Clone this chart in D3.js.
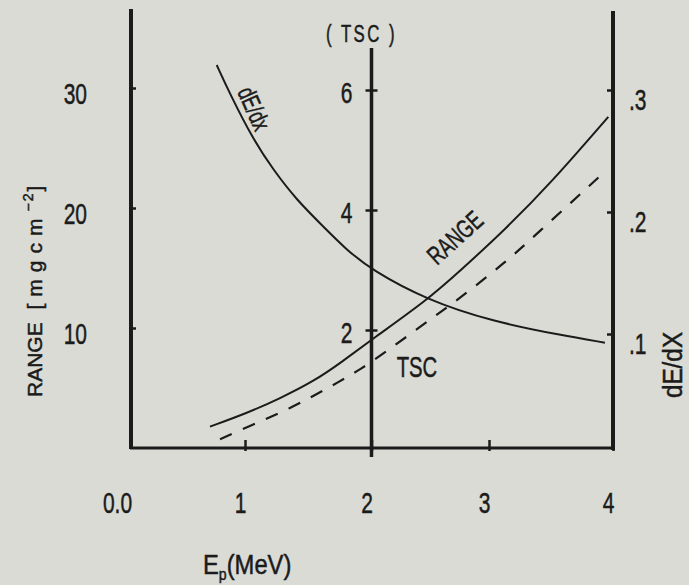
<!DOCTYPE html>
<html>
<head>
<meta charset="utf-8">
<script src="https://cdn.jsdelivr.net/npm/d3@7"></script>
<style>
  html, body { margin: 0; padding: 0; background: #dadbd5; }
  svg { display: block; }
  text { font-family: "Liberation Sans", Arial, sans-serif; fill: #1b1b1b; stroke: #1b1b1b; stroke-width: 0.5px; }
</style>
</head>
<body>
<svg id="chart" width="689" height="585"></svg>
<script>
// tick values / labels
const energyTicks = [0, 1, 2, 3, 4];
const energyLabels = ['0.0', '1', '2', '3', '4'];
const rangeTicks = [10, 20, 30];
const tscTicks = [2, 4, 6];
const dedxTicks = [0.1, 0.2, 0.3];
const dedxLabels = ['.1', '.2', '.3'];

// RANGE (solid), mg cm^-2, left axis
const rangeEnergy = [0.715, 1.013, 1.277, 1.540, 1.777, 2.002, 2.470, 2.753, 3.129, 3.50, 3.962];
const rangeValues = [1.78, 2.89, 4.14, 5.53, 7.25, 9.05, 12.3, 14.75, 18.2, 22.1, 27.6];

// TSC (dashed), middle axis
const tscEnergy = [0.797, 1.145, 1.356, 1.540, 1.738, 1.909, 2.098, 2.523, 2.753, 3.145, 3.357, 3.935];
const tscValues = [0.18, 0.50, 0.695, 0.90, 1.13, 1.34, 1.60, 2.21, 2.53, 3.15, 3.55, 4.64];

// dE/dx (solid), right axis
const dedxEnergy = [0.770, 0.878, 1.067, 1.225, 1.409, 1.620, 1.804, 2.002, 2.470, 3.035, 3.573, 3.935];
const dedxValues = [0.3205, 0.2967, 0.259, 0.2344, 0.2098, 0.188, 0.1689, 0.1525, 0.1279, 0.1101, 0.0992, 0.0929];

const svg = d3.select('#chart');
const ink = '#1b1b1b';
const squeeze = 0.7;   // lettering is narrow

// hand drawn axis, so a polylinear x scale
const x = d3.scaleLinear().domain([0, 1, 2, 3, 4]).range([122, 245, 371.5, 489, 613]);
const yRange = d3.scaleLinear().domain([0, 30]).range([448, 88]);
const yTsc = d3.scaleLinear().domain([0, 6]).range([450, 90]);
const yDedx = d3.scaleLinear().domain([0, 0.3]).range([456, 90]);

const frameLeft = 131, frameTop = 9;
const frameBottom = yRange(0), frameRight = x(4);

// move x/y into a transform so the glyphs can be squeezed sideways
function condense(sel, sx, rot) {
    sel.each(function() {
        const t = d3.select(this);
        const tx = +t.attr('x') || 0, ty = +t.attr('y') || 0;
        t.attr('x', null).attr('y', null)
            .attr('transform', `translate(${tx},${ty})` + (rot ? ` rotate(${rot})` : '') + ` scale(${sx},1)`);
    });
}

// frame
svg.append('line').attr('x1', frameLeft).attr('x2', frameLeft).attr('y1', frameTop).attr('y2', frameBottom + 1)
    .attr('stroke', ink).attr('stroke-width', 4);
svg.append('line').attr('x1', frameLeft - 1).attr('x2', frameRight + 2).attr('y1', frameBottom).attr('y2', frameBottom)
    .attr('stroke', ink).attr('stroke-width', 3);
svg.append('line').attr('x1', frameRight).attr('x2', frameRight).attr('y1', frameTop + 2).attr('y2', frameBottom + 2)
    .attr('stroke', ink).attr('stroke-width', 4);
svg.append('line').attr('x1', x(2)).attr('x2', x(2)).attr('y1', 48).attr('y2', 457)
    .attr('stroke', ink).attr('stroke-width', 3.5);

function styleAxis(g, size) {
    g.select('.domain').remove();
    g.selectAll('.tick line').attr('stroke', ink).attr('stroke-width', 2.5);
    g.selectAll('.tick text').attr('font-size', size).attr('fill', ink)
        .attr('font-family', '"Liberation Sans", Arial, sans-serif');
    condense(g.selectAll('.tick text'), squeeze);
}

// bottom axis
const gx = svg.append('g')
    .attr('transform', `translate(0,${frameBottom})`)
    .call(d3.axisBottom(x).tickValues(energyTicks).tickFormat((d, i) => energyLabels[i])
        .tickSizeInner(-8).tickSizeOuter(0).tickPadding(44));
gx.selectAll('.tick text').attr('x', -5);
styleAxis(gx, 30);
gx.selectAll('.tick').filter(d => d === 0).select('line').remove();
gx.selectAll('.tick line').attr('y2', -8).attr('y1', 3);

// left axis (RANGE)
const gl = svg.append('g')
    .attr('transform', `translate(${frameLeft},0)`)
    .call(d3.axisLeft(yRange).tickValues(rangeTicks).tickSizeInner(-5).tickSizeOuter(0).tickPadding(44));
gl.selectAll('.tick text').attr('dy', '0.53em');
styleAxis(gl, 30);

// middle axis (TSC)
const gm = svg.append('g')
    .attr('transform', `translate(${x(2)},0)`)
    .call(d3.axisLeft(yTsc).tickValues(tscTicks).tickFormat(d3.format('d'))
        .tickSizeInner(6).tickSizeOuter(0).tickPadding(13));
gm.selectAll('.tick text').attr('dy', '0.43em');
styleAxis(gm, 30);
gm.selectAll('.tick line').attr('x1', 6);

// right axis (dE/dx)
const gr = svg.append('g')
    .attr('transform', `translate(${frameRight},0)`)
    .call(d3.axisRight(yDedx).tickValues(dedxTicks).tickFormat((d, i) => dedxLabels[i])
        .tickSizeInner(-6).tickSizeOuter(0).tickPadding(16));
gr.selectAll('.tick text').attr('dy', '0.64em');
styleAxis(gr, 30);

// curves
const curve = d3.curveBasis;

const rangeLine = d3.line().curve(curve).x(d => x(d[0])).y(d => yRange(d[1]));
const tscLine = d3.line().curve(curve).x(d => x(d[0])).y(d => yTsc(d[1]));
const dedxLine = d3.line().curve(curve).x(d => x(d[0])).y(d => yDedx(d[1]));

svg.append('path')
    .datum(d3.zip(rangeEnergy, rangeValues))
    .attr('fill', 'none').attr('stroke', ink).attr('stroke-width', 2)
    .attr('d', rangeLine);

svg.append('path')
    .datum(d3.zip(tscEnergy, tscValues))
    .attr('fill', 'none').attr('stroke', ink).attr('stroke-width', 2.2)
    .attr('stroke-dasharray', '13,12')
    .attr('d', tscLine);

svg.append('path')
    .datum(d3.zip(dedxEnergy, dedxValues))
    .attr('fill', 'none').attr('stroke', ink).attr('stroke-width', 2)
    .attr('d', dedxLine);

// curve labels
const dedxLabel = svg.append('text')
    .attr('x', x(0.935)).attr('y', yDedx(0.2986))
    .attr('font-size', 25)
    .text('dE/dx');
condense(dedxLabel, squeeze, 66);

const rangeLabel = svg.append('text')
    .attr('x', x(2.557)).attr('y', yRange(15.17))
    .attr('font-size', 26)
    .text('RANGE');
condense(rangeLabel, squeeze, -42);

const tscLabel = svg.append('text')
    .attr('x', x(2.387)).attr('y', yTsc(1.22))
    .attr('text-anchor', 'middle')
    .attr('font-size', 29)
    .text('TSC');
condense(tscLabel, squeeze);

// axis titles
const tscTitle = svg.append('text')
    .attr('x', x(2) - 10).attr('y', 42)
    .attr('text-anchor', 'middle')
    .attr('font-size', 24)
    .attr('letter-spacing', 3.5)
    .text('( TSC )');
condense(tscTitle, squeeze);

const lt = svg.append('text')
    .attr('transform', 'translate(42,397) rotate(-90)')
    .attr('font-size', 21);
lt.append('tspan').text('RANGE');
lt.append('tspan').attr('letter-spacing', 7).text(' [mgcm');
lt.append('tspan').attr('font-size', 14).attr('dy', -9).attr('letter-spacing', 2).text('−2');
lt.append('tspan').attr('dy', 9).text(']');

const rt = svg.append('text')
    .attr('x', 682).attr('y', 365)
    .attr('text-anchor', 'middle')
    .attr('font-size', 27)
    .text('dE/dX');
condense(rt, 0.9, -90);

const xt = svg.append('text')
    .attr('x', 203).attr('y', 574)
    .attr('font-size', 27);
xt.append('tspan').text('E');
xt.append('tspan').attr('font-size', 16).attr('dy', 6).text('p');
xt.append('tspan').attr('dy', -6).text('(MeV)');
condense(xt, 0.88);
</script>
</body>
</html>
